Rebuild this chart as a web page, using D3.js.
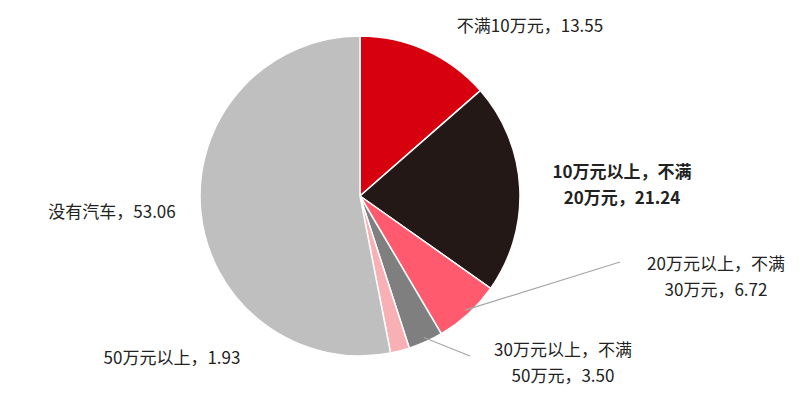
<!DOCTYPE html>
<html><head><meta charset="utf-8">
<script src="https://cdn.jsdelivr.net/npm/d3@7"></script>
<style>body{margin:0;background:#fff}text{font-family:"Noto Sans CJK SC",sans-serif;font-size:17px;fill:#222}</style>
</head><body><svg width="812" height="405"></svg>
<script>
const categories = ["不满10万元","10万元以上，不满20万元","20万元以上，不满30万元","30万元以上，不满50万元","50万元以上","没有汽车"];
const values = [13.55,21.24,6.72,3.50,1.93,53.06];
const colors = ["#D7000F","#231815","#FF5A6E","#7F7F7F","#F8B0B5","#BFBFBF"];
// label lines, position in px
const labels = [
  {lines:["不满10万元，13.55"], x:530, y:32, anchor:"middle"},
  {lines:["10万元以上，不满","20万元，21.24"], x:622, y:178, anchor:"middle", bold:true},
  {lines:["20万元以上，不满","30万元，6.72"], x:716, y:270, anchor:"middle"},
  {lines:["30万元以上，不满","50万元，3.50"], x:563, y:356, anchor:"middle"},
  {lines:["50万元以上，1.93"], x:172, y:364, anchor:"middle"},
  {lines:["没有汽车，53.06"], x:112, y:218, anchor:"middle"}
];
const svg = d3.select("svg");
const g = svg.append("g").attr("transform","translate(360,196)");
const pie = d3.pie().sort(null).value(d=>d);
const arcs = pie(values);
const r = 160;
g.selectAll("path").data(arcs).join("path")
  .attr("d", d3.arc().innerRadius(0).outerRadius(r))
  .attr("fill",(d,i)=>colors[i]).attr("stroke","#fff").attr("stroke-width",1.5);
// leader lines
const lead = [[2,[620,262]],[3,[470,356]]];
lead.forEach(([i,p])=>{
  const a = (arcs[i].startAngle+arcs[i].endAngle)/2;
  const sx = 360+Math.sin(a)*r*0.97, sy = 196-Math.cos(a)*r*0.97;
  svg.append("line").attr("x1",sx).attr("y1",sy).attr("x2",p[0]).attr("y2",p[1])
    .attr("stroke","#A6A6A6").attr("stroke-width",1.2);
});
labels.forEach(l=>{
  const t = svg.append("text").attr("text-anchor",l.anchor).attr("font-weight",l.bold?"bold":null);
  l.lines.forEach((s,k)=>t.append("tspan").attr("x",l.x).attr("y",l.y+k*26).text(s));
});
</script></body></html>
